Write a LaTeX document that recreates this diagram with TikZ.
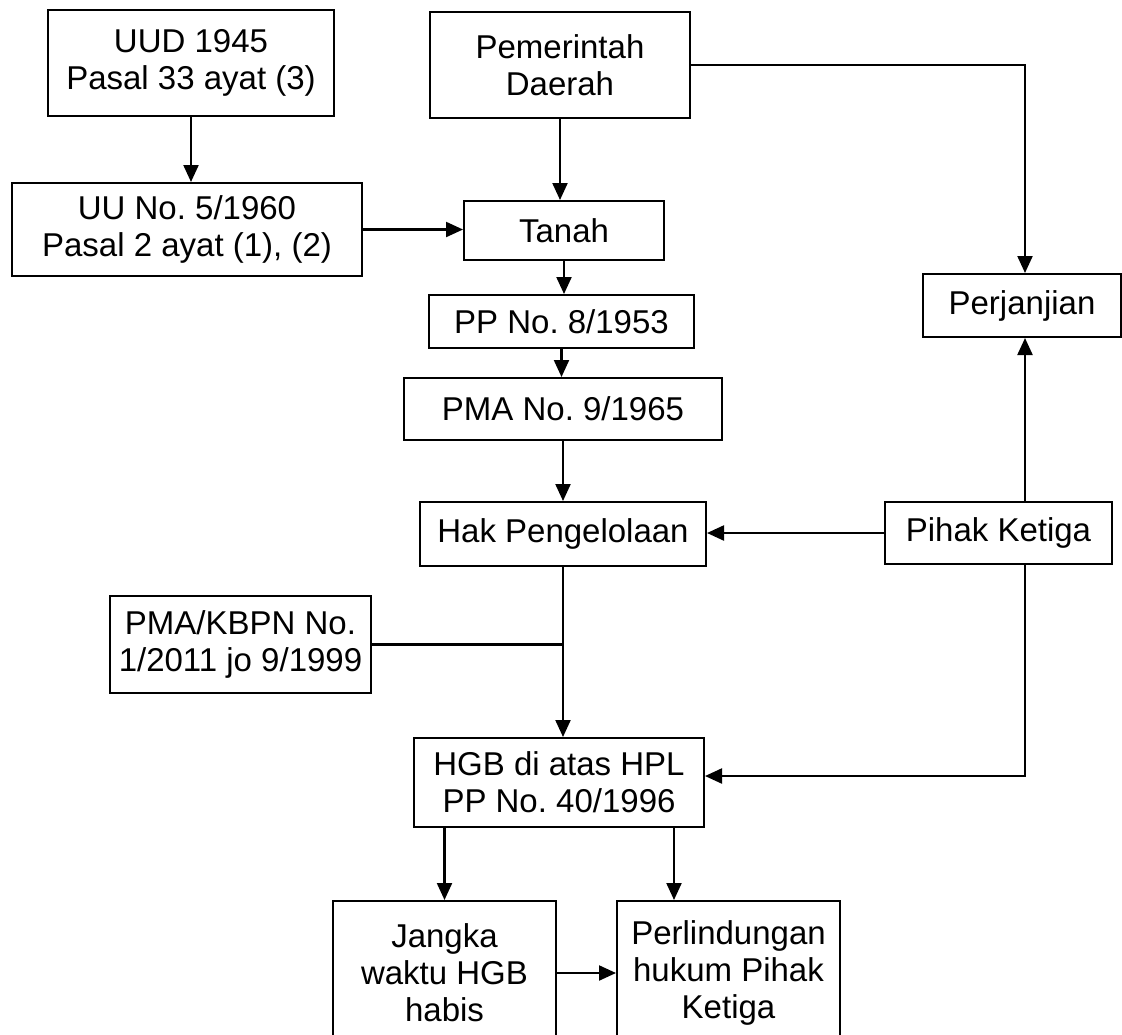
\documentclass[tikz,border=0pt]{standalone}
\usepackage{fontspec}
\setmainfont{Liberation Sans}
\usetikzlibrary{arrows.meta}
\frenchspacing

\begin{document}
\begin{tikzpicture}[
    x=1pt, y=-1pt,
    box/.style={rectangle, draw, line width=2pt, align=center, inner sep=0pt, font=\fontsize{33}{37}\selectfont},
    arrow/.style={-{Triangle[length=17pt,width=15pt]}, line width=2.2pt},
    link/.style={line width=2.2pt}
]
\useasboundingbox (0,0) rectangle (1122,1034);

% Sources
\node[box, minimum width=286pt, minimum height=106pt] (uud) at (191,63) {UUD 1945\\Pasal 33 ayat (3)};
\node[box, minimum width=260pt, minimum height=106pt] (pemda) at (560,65) {Pemerintah\\Daerah};
\node[box, minimum width=350pt, minimum height=93pt] (uu) at (187,229.5) {UU No. 5/1960\\Pasal 2 ayat (1), (2)};
\node[box, minimum width=200pt, minimum height=59pt] (tanah) at (564,230.5) {Tanah};
\node[box, minimum width=198pt, minimum height=63pt] (perjanjian) at (1022,305.5) {Perjanjian};

% Middle column
\node[box, minimum width=265pt, minimum height=53pt] (pp) at (561.5,321.5) {PP No. 8/1953};
\node[box, minimum width=318pt, minimum height=62pt] (pma) at (563,409) {PMA No. 9/1965};
\node[box, minimum width=286pt, minimum height=64pt] (hak) at (563,534) {Hak Pengelolaan};
\node[box, minimum width=227pt, minimum height=62pt] (pihak) at (998.5,533) {Pihak Ketiga};
\node[box, minimum width=261pt, minimum height=97pt] (kbpn) at (240.5,644.5) {PMA/KBPN No.\\1/2011 jo 9/1999};
\node[box, minimum width=290pt, minimum height=89pt] (hgb) at (559,782.5) {HGB di atas HPL\\PP No. 40/1996};

% Results
\node[box, minimum width=223pt, minimum height=144pt] (jangka) at (444.5,973) {Jangka\\waktu HGB\\habis};
\node[box, minimum width=223pt, minimum height=144pt] (perlindungan) at (728.5,973) {Perlindungan\\hukum Pihak\\Ketiga};

\coordinate (rail) at (1025,776);
\coordinate (drop) at (674,860);

% Connections
\draw[arrow] (uud.south) -- (uud.south |- uu.north);
\draw[arrow] (pemda.south) -- (pemda.south |- tanah.north);
\draw[arrow] (pemda.east) -| (rail |- perjanjian.north);
\draw[arrow] (uu.east) -- (uu.east -| tanah.west);
\draw[arrow] (tanah.south) -- (tanah.south |- pp.north);
\draw[arrow] (pp.south) -- (pp.south |- pma.north);
\draw[arrow] (pma.south) -- (pma.south |- hak.north);
\draw[arrow] (pihak.west) -- (pihak.west -| hak.east);
\draw[arrow] (rail |- pihak.north) -- (rail |- perjanjian.south);
\draw[arrow] (hak.south) -- (hak.south |- hgb.north);
\draw[link] (kbpn.east) -- (kbpn.east -| hak.south);
\draw[arrow] (rail |- pihak.south) -- (rail) -- (rail -| hgb.east);
\draw[arrow] (jangka.north |- hgb.south) -- (jangka.north);
\draw[arrow] (drop |- hgb.south) -- (drop |- perlindungan.north);
\draw[arrow] (jangka.east) -- (jangka.east -| perlindungan.west);

\end{tikzpicture}
\end{document}
